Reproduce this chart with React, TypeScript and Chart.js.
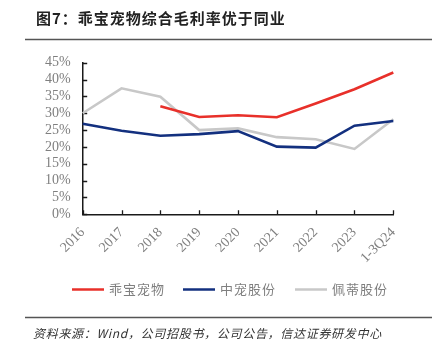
import React, { useEffect, useRef } from "react";
import { Chart, registerables } from "chart.js";

Chart.register(...registerables);

const categories = ["2016", "2017", "2018", "2019", "2020", "2021", "2022", "2023", "1-3Q24"];
const guaibao = [null, null, 32.1, 28.9, 29.4, 28.8, 32.9, 37.1, 42.1];
const zhongchong = [26.9, 24.8, 23.3, 23.8, 24.7, 20.1, 19.8, 26.3, 27.7];
const peidi = [30.0, 37.4, 34.9, 25.0, 25.5, 22.9, 22.3, 19.4, 28.2];
const seriesNames = ["乖宝宠物", "中宠股份", "佩蒂股份"];
const seriesColors = ["#e8302a", "#13307f", "#c8c8c8"];
const yTicks = { min: 0, max: 45, step: 5 };
const titleText = "图7：乖宝宠物综合毛利率优于同业";
const sourceText = "资料来源：Wind，公司招股书，公司公告，信达证券研发中心";

const W = 443;
const H = 356;
const AREA = { left: 82.7, top: 62.7, right: 393.3, bottom: 214.3 };

const decorPlugin = {
  id: "decor",
  beforeDatasetsDraw(chart: any) {
    const ctx = chart.ctx;
    const x = chart.scales.x;
    const y = chart.scales.y;
    ctx.save();
    ctx.strokeStyle = "#1a1a1a";
    ctx.lineWidth = 1.3;
    ctx.beginPath();
    y.ticks.forEach((t: any) => {
      const py = Math.round(y.getPixelForValue(t.value)) + 0.5;
      ctx.moveTo(x.left, py);
      ctx.lineTo(x.left + 4.5, py);
    });
    categories.forEach((_c, i) => {
      const px = Math.round(x.getPixelForValue(i)) + 0.5;
      ctx.moveTo(px, y.bottom);
      ctx.lineTo(px, y.bottom - 4);
    });
    ctx.stroke();
    ctx.restore();
  },
  afterDraw(chart: any) {
    const ctx = chart.ctx;
    ctx.save();
    // title
    ctx.fillStyle = "#222";
    ctx.font = "bold 15px 'Noto Sans CJK SC'";
    (ctx as any).letterSpacing = "1px";
    ctx.textBaseline = "middle";
    ctx.textAlign = "left";
    ctx.fillText(titleText, 36, 18.5);
    // rules
    ctx.strokeStyle = "#555";
    ctx.lineWidth = 1.5;
    ctx.beginPath();
    ctx.moveTo(25, 39.5);
    ctx.lineTo(432, 39.5);
    ctx.moveTo(25, 317.5);
    ctx.lineTo(432, 317.5);
    ctx.stroke();
    // legend
    const legendLineX = [72, 183, 295];
    const ly = 289.5;
    ctx.font = "13px 'Noto Sans CJK SC'";
    (ctx as any).letterSpacing = "1px";
    chart.data.datasets.forEach((ds: any, i: number) => {
      ctx.strokeStyle = ds.borderColor;
      ctx.lineWidth = 2.5;
      ctx.beginPath();
      ctx.moveTo(legendLineX[i], ly);
      ctx.lineTo(legendLineX[i] + 32, ly);
      ctx.stroke();
      ctx.fillStyle = "#7f7f7f";
      ctx.fillText(ds.label, legendLineX[i] + 37, ly);
    });
    // source
    ctx.fillStyle = "#333";
    ctx.font = "italic 12px 'Noto Sans CJK SC'";
    (ctx as any).letterSpacing = "0.7px";
    ctx.fillText(sourceText, 33, 333.5);
    ctx.restore();
  },
};

export default function App() {
  const ref = useRef<HTMLCanvasElement | null>(null);
  useEffect(() => {
    if (!ref.current) return;
    const data = [guaibao, zhongchong, peidi];
    const chart = new Chart(ref.current, {
      type: "line",
      data: {
        labels: categories,
        datasets: data.map((d, i) => ({
          label: seriesNames[i],
          data: d,
          borderColor: seriesColors[i],
          backgroundColor: seriesColors[i],
          borderWidth: 2.6,
          pointRadius: 0,
          tension: 0,
          fill: false,
          spanGaps: false,
        })),
      },
      options: {
        responsive: false,
        animation: false,
        layout: { padding: { left: 0, top: AREA.top, right: W - AREA.right, bottom: 0 } },
        plugins: { legend: { display: false }, title: { display: false }, tooltip: { enabled: false } },
        scales: {
          x: {
            offset: false,
            grid: { display: false, drawTicks: false },
            border: { display: true, color: "#1a1a1a", width: 1.5 },
            ticks: {
              maxRotation: 45,
              minRotation: 45,
              autoSkip: false,
              padding: 10,
              color: "#7f7f7f",
              font: { family: "'Liberation Serif'", size: 14 },
            },
            afterFit: (s: any) => {
              s.height = H - AREA.bottom;
            },
          },
          y: {
            min: yTicks.min,
            max: yTicks.max,
            grid: { display: false, drawTicks: false },
            border: { display: true, color: "#1a1a1a", width: 1.5 },
            ticks: {
              stepSize: yTicks.step,
              autoSkip: false,
              padding: 12,
              color: "#7f7f7f",
              font: { family: "'Liberation Serif'", size: 14 },
              callback: (v: any) => v + "%",
            },
            afterFit: (s: any) => {
              s.width = AREA.left;
            },
          },
        },
      },
      plugins: [decorPlugin],
    });
    return () => chart.destroy();
  }, []);
  return (
    <div style={{ position: "absolute", left: 0, top: 0, width: W, height: H, background: "#fff" }}>
      <canvas ref={ref} width={W} height={H} style={{ display: "block" }} />
    </div>
  );
}
